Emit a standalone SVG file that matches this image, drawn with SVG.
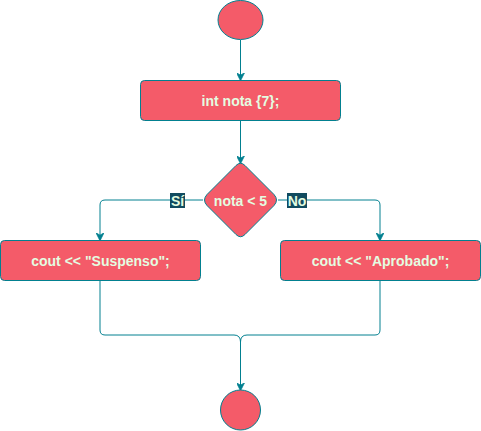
<svg xmlns="http://www.w3.org/2000/svg" width="481" height="431" viewBox="0 0 481 431">
<defs>
<style>
.n{fill:#F45B69;stroke:#028090;stroke-width:1}
.t{font-family:"Liberation Sans",Arial,sans-serif;font-size:14px;font-weight:bold;fill:#E4FDE1;text-anchor:middle;dominant-baseline:central}
.e{fill:none;stroke:#028090;stroke-width:1}
.lb{fill:#114B5F}
</style>
<marker id="ah" viewBox="0 0 10 10" refX="9" refY="5" markerWidth="8" markerHeight="8" markerUnits="userSpaceOnUse" orient="auto">
<path d="M0 0 L10 5 L0 10 L3 5 Z" fill="#028090" stroke="#028090"/>
</marker>
</defs>
<rect width="481" height="431" fill="#ffffff"/>
<g id="connectors">
<path class="e" d="M240.5 40 V80" marker-end="url(#ah)"/>
<path class="e" d="M240.5 120 V163" marker-end="url(#ah)"/>
<path class="e" d="M203 200 H105 Q100 200 100 205 V240" marker-end="url(#ah)"/>
<path class="e" d="M278 200 H375 Q380 200 380 205 V240" marker-end="url(#ah)"/>
<path class="e" d="M100 280.5 V330 Q100 335 105 335 H234 Q240.5 335 240.5 342 V390" marker-end="url(#ah)"/>
<path class="e" d="M380 280.5 V330 Q380 335 375 335 H247 Q240.5 335 240.5 342"/>
<g id="label-si"><rect class="lb" x="170" y="193" width="15" height="15"/><text class="t" x="177.5" y="200.5">Sí</text></g>
<g id="label-no"><rect class="lb" x="287" y="193" width="20" height="15"/><text class="t" x="297" y="200.5">No</text></g>
</g>
<g id="start"><ellipse class="n" cx="240.5" cy="20" rx="22.5" ry="19.5"/></g>
<g id="decl"><rect class="n" x="140.5" y="80.5" width="200" height="40" rx="4"/><text class="t" x="240.5" y="100.5">int nota {7};</text></g>
<g id="cond"><path class="n" d="M236 165.5 Q240.5 161 245 165.5 L274 194.5 Q279 200 274 205.5 L245 234.5 Q240.5 239 236 234.5 L207 205.5 Q202 200 207 194.5 Z"/><text class="t" x="240.5" y="200.5">nota &lt; 5</text></g>
<g id="suspenso"><rect class="n" x="0.5" y="240.5" width="200" height="40" rx="4"/><text class="t" x="100.5" y="260.5">cout &lt;&lt; "Suspenso";</text></g>
<g id="aprobado"><rect class="n" x="280.5" y="240.5" width="200" height="40" rx="4"/><text class="t" x="380.5" y="260.5">cout &lt;&lt; "Aprobado";</text></g>
<g id="end"><circle class="n" cx="240.5" cy="410" r="20"/></g>
</svg>
